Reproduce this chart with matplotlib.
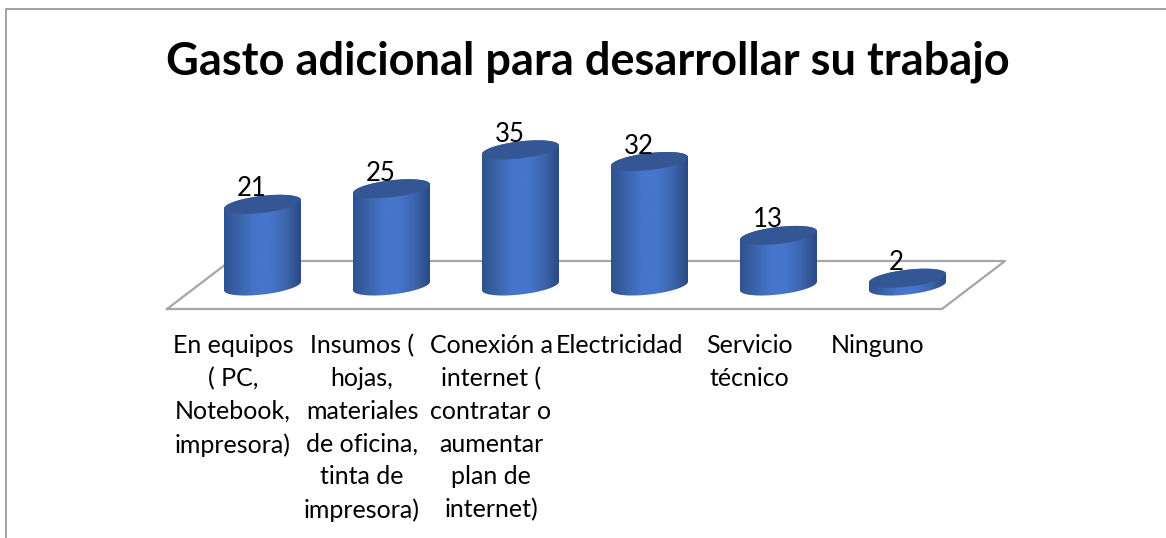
import matplotlib
matplotlib.use('Agg')
import matplotlib.pyplot as plt
import numpy as np
from matplotlib.lines import Line2D
from matplotlib.patches import Polygon
from matplotlib.colors import LinearSegmentedColormap
from matplotlib.transforms import ScaledTranslation

categories = ['En equipos\n( PC,\nNotebook,\nimpresora)',
              'Insumos (\nhojas,\nmateriales\nde oficina,\ntinta de\nimpresora)',
              'Conexión a\ninternet (\ncontratar o\naumentar\nplan de\ninternet)',
              'Electricidad',
              'Servicio\ntécnico',
              'Ninguno']
values = [21, 25, 35, 32, 13, 2]
title = 'Gasto adicional para desarrollar su trabajo'

W, H = 1166, 538
FONT = 'Lato'

fig = plt.figure(figsize=(W / 100, H / 100), dpi=100)

# plot area in pixels, y=0 sits on the centre of the cylinder bases
left, right = 198.0, 972.0
base, unit = 286.0, 3.89
y_min, y_max = -4, 40
ax = fig.add_axes([left / W, 1 - (base - y_min * unit) / H, (right - left) / W, (y_max - y_min) * unit / H])
ax.set_xlim(-0.5, 5.5)
ax.set_ylim(y_min, y_max)
for s in ax.spines.values():
    s.set_visible(False)
ax.set_yticks([])

px_x = 6.0 / (right - left)
px_y = 1.0 / unit

# outer frame, only top and left show
fig.add_artist(Line2D([5.5 / W, 5.5 / W, 1], [0, 1 - 8.5 / H, 1 - 8.5 / H], color='#9a9a9a', lw=1.3))

# floor
fx = [167, 942, 1005, 230, 167]
fy = [309, 309, 261, 261, 309]
fig.add_artist(Line2D([x / W for x in fx], [1 - y / H for y in fy], color='#a6a6a6', lw=1.6, zorder=0))

cmap = LinearSegmentedColormap.from_list('cyl', ['#2f5290', '#3b64ab', '#4675cb', '#4675cb', '#3c66ae', '#2a4a82'])
grad = np.linspace(0, 1, 200).reshape(1, -1)

half_w = 38.5 * px_x
half_h = 8.5 * px_y
tilt = 4.3 * px_y
t = np.linspace(0, 2 * np.pi, 121)


def ellipse(cx, cy, tt):
    return cx + half_w * np.cos(tt), cy + half_h * np.sin(tt) + tilt * np.cos(tt)


for i, v in enumerate(values):
    # body: lower half of the base, then the top ellipse
    low = np.linspace(np.pi, 2 * np.pi, 60)
    bx, by = ellipse(i, 0, low)
    upx, upy = ellipse(i, v, np.linspace(0, np.pi, 60))
    px = np.concatenate([bx, upx])
    py = np.concatenate([by, upy])
    body = Polygon(np.column_stack([px, py]), closed=True, transform=ax.transData, fc='none', ec='none')
    ax.add_patch(body)
    im = ax.imshow(grad, extent=[i - half_w, i + half_w, y_min, y_max], cmap=cmap, aspect='auto', zorder=2,
                   interpolation='bilinear')
    im.set_clip_path(body)
    ex, ey = ellipse(i, v, t)
    ax.add_patch(Polygon(np.column_stack([ex, ey]), closed=True, fc='#345694', ec='none', zorder=3))
    ax.annotate(str(v), (i, v), xytext=(-11 * 0.72, 8 * 0.72), textcoords='offset points', ha='center', va='baseline',
                fontsize=18.5, family=FONT, color='black', zorder=4, annotation_clip=False)

ax.set_xlim(-0.5, 5.5)
ax.set_ylim(y_min, y_max)
ax.patch.set_alpha(0)

ax.set_xticks(range(len(categories)))
ax.set_xticklabels(categories, fontsize=18, family=FONT, linespacing=1.51)
ax.tick_params(axis='x', length=0, pad=23.5)
shift = ScaledTranslation(-29.5 / 100, 0, fig.dpi_scale_trans)
for lab in ax.get_xticklabels():
    lab.set_transform(lab.get_transform() + shift)

fig.text(588 / W, 1 - 62 / H, title, ha='center', va='center', fontsize=32.5, fontweight='bold', family=FONT)

fig.savefig('out.png', dpi=100)
